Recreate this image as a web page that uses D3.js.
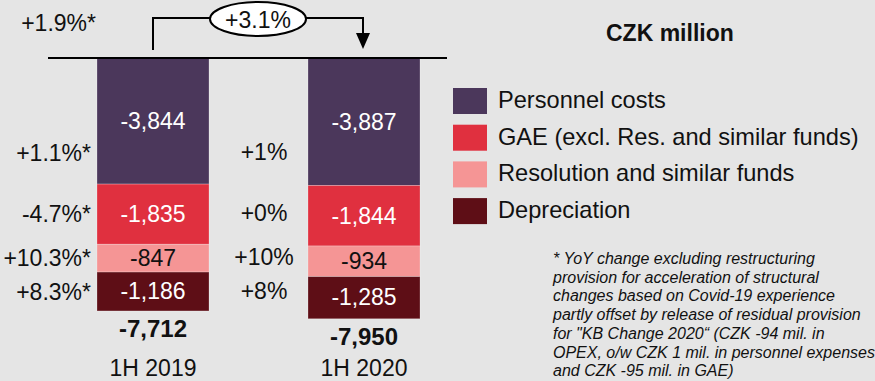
<!DOCTYPE html>
<html>
<head>
<meta charset="utf-8">
<script src="https://cdn.jsdelivr.net/npm/d3@7"></script>
<style>
  html, body { margin: 0; padding: 0; background: #e5e5e5; }
  svg { display: block; font-family: "Liberation Sans", Arial, sans-serif; }
</style>
</head>
<body>
<svg id="chart" width="875" height="381"></svg>
<script>
// Operating expenses by component, CZK million
const periods = ["1H 2019", "1H 2020"];
const components = ["Personnel costs", "GAE (excl. Res. and similar funds)", "Resolution and similar funds", "Depreciation"];
const colors = ["#4b375b", "#e0303f", "#f59595", "#5e0e16"];
const labelColors = ["#ffffff", "#ffffff", "#111111", "#ffffff"];
const values2019 = [3844, 1835, 847, 1186];
const values2020 = [3887, 1844, 934, 1285];
const totals = [7712, 7950];
const yoy2019 = ["+1.1%*", "-4.7%*", "+10.3%*", "+8.3%*"];
const yoy2020 = ["+1%", "+0%", "+10%", "+8%"];
const totalYoY2019 = "+1.9%*";
const totalYoY2020 = "+3.1%";
const unitLabel = "CZK million";
const footnote = [
  "* YoY change excluding restructuring",
  "provision for acceleration of structural",
  "changes based on Covid-19 experience",
  "partly offset by release of residual provision",
  "for \"KB Change 2020\u201C (CZK -94 mil. in",
  "OPEX, o/w CZK 1 mil. in personnel expenses",
  "and CZK -95 mil. in GAE)"
];

const fmt = v => "-" + d3.format(",")(v);
const svg = d3.select("#chart");

// Scales: bars hang down from a common baseline
const x = d3.scalePoint().domain(periods).range([153, 364]);
const barW = 112;
const y = d3.scaleLinear().domain([0, 8000]).range([58, 320.4]);

const series = [values2019, values2020];
const stacks = series.map(vals => {
  let cum = 0;
  return vals.map((v, i) => {
    const s = { i, v, y0: cum, y1: cum + v };
    cum += v;
    return s;
  });
});

// Stacked bars
periods.forEach((p, pi) => {
  const g = svg.append("g");
  g.selectAll("rect").data(stacks[pi]).join("rect")
    .attr("x", x(p) - barW / 2)
    .attr("width", barW)
    .attr("y", d => y(d.y0))
    .attr("height", d => y(d.y1) - y(d.y0))
    .attr("fill", d => colors[d.i])
    .attr("stroke", "rgba(255,255,255,0.3)")
    .attr("stroke-width", 0.8);

  g.selectAll("text.val").data(stacks[pi]).join("text")
    .attr("class", "val")
    .attr("x", x(p))
    .attr("y", d => (y(d.y0) + y(d.y1)) / 2 + 7.8)
    .attr("text-anchor", "middle")
    .attr("font-size", 23)
    .attr("fill", d => labelColors[d.i])
    .text(d => fmt(d.v));

  // Total under each bar
  const last = stacks[pi][stacks[pi].length - 1];
  g.append("text")
    .attr("x", x(p))
    .attr("y", y(last.y1) + 26)
    .attr("text-anchor", "middle")
    .attr("font-size", 24)
    .attr("font-weight", "bold")
    .attr("fill", "#111")
    .text(fmt(totals[pi]));

  // Period label
  g.append("text")
    .attr("x", x(p))
    .attr("y", 376)
    .attr("text-anchor", "middle")
    .attr("font-size", 23)
    .attr("fill", "#111")
    .text(p);
});

// Year-on-year change labels, aligned with the 1H 2019 segments
const pctY = stacks[0].map(d => d.i === 0
  ? y(d.y0) + 0.75 * (y(d.y1) - y(d.y0))
  : (y(d.y0) + y(d.y1)) / 2);

svg.append("g").selectAll("text").data(yoy2019).join("text")
  .attr("x", 91)
  .attr("y", (d, i) => pctY[i] + 8)
  .attr("text-anchor", "end")
  .attr("font-size", 23)
  .attr("fill", "#111")
  .text(d => d);

svg.append("g").selectAll("text").data(yoy2020).join("text")
  .attr("x", 264)
  .attr("y", (d, i) => pctY[i] + 7)
  .attr("text-anchor", "middle")
  .attr("font-size", 23)
  .attr("fill", "#111")
  .text(d => d);

// Baseline
svg.append("line")
  .attr("x1", 48).attr("x2", 447)
  .attr("y1", 58).attr("y2", 58)
  .attr("stroke", "#000").attr("stroke-width", 2);

// Total change bracket with arrow
const xa = x(periods[0]), xb = x(periods[1]) - 1;
svg.append("path")
  .attr("d", `M${xa},50 V18 H${xb} V34`)
  .attr("fill", "none").attr("stroke", "#000").attr("stroke-width", 2);
svg.append("path")
  .attr("d", `M${xb - 7},33 L${xb + 7},33 L${xb},49 Z`)
  .attr("fill", "#000");
svg.append("ellipse")
  .attr("cx", 258).attr("cy", 19).attr("rx", 48).attr("ry", 17)
  .attr("fill", "#fff").attr("stroke", "#000").attr("stroke-width", 2);
svg.append("text")
  .attr("x", 258).attr("y", 27.5)
  .attr("text-anchor", "middle")
  .attr("font-size", 23).attr("fill", "#111")
  .text(totalYoY2020);
svg.append("text")
  .attr("x", 96).attr("y", 31)
  .attr("text-anchor", "end")
  .attr("font-size", 23).attr("fill", "#111")
  .text(totalYoY2019);

// Unit label
svg.append("text")
  .attr("x", 606).attr("y", 41)
  .attr("font-size", 23).attr("font-weight", "bold").attr("fill", "#111")
  .text(unitLabel);

// Legend
const legend = svg.append("g").selectAll("g").data(components).join("g")
  .attr("transform", (d, i) => `translate(453,${88 + i * 36.7})`);
legend.append("rect")
  .attr("width", 34).attr("height", 26)
  .attr("fill", (d, i) => colors[i]);
legend.append("text")
  .attr("x", 45).attr("y", 20)
  .attr("font-size", 23.6).attr("fill", "#111")
  .text(d => d);

// Footnote
svg.append("g").selectAll("text").data(footnote).join("text")
  .attr("x", 553)
  .attr("y", (d, i) => 264 + i * 18.7)
  .attr("font-size", 16).attr("font-style", "italic").attr("fill", "#111")
  .text(d => d);
</script>
</body>
</html>
